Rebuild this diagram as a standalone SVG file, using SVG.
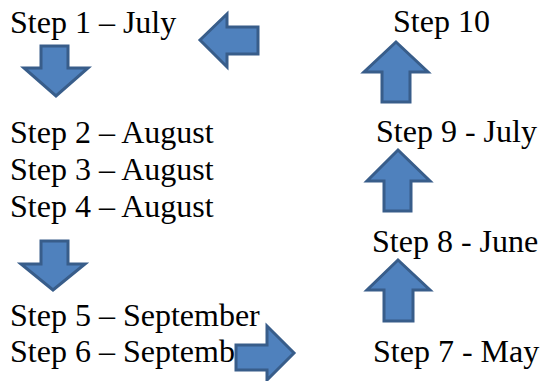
<svg xmlns="http://www.w3.org/2000/svg" width="540" height="381" viewBox="0 0 540 381">
<style>
.t{font-size:32px;fill:#000}
.ar{fill:#4F81BD;stroke:#385D8A;stroke-width:3;stroke-linejoin:miter}
</style>
<rect width="540" height="381" fill="#fff"/>
<g font-family="'Liberation Serif', 'Times New Roman', Tinos, 'DejaVu Serif', serif" class="t">
<g id="step1"><text x="10" y="33">Step 1 – July</text></g>
<g id="step2"><text x="10" y="143">Step 2 – August</text></g>
<g id="step3"><text x="10" y="180">Step 3 – August</text></g>
<g id="step4"><text x="10" y="217">Step 4 – August</text></g>
<g id="step5"><text x="10" y="326">Step 5 – September</text></g>
<g id="step6"><text x="10" y="362">Step 6 – September</text></g>
<g id="step7"><text x="373" y="362">Step 7 - May</text></g>
<g id="step8"><text x="372" y="252">Step 8 - June</text></g>
<g id="step9"><text x="376" y="142">Step 9 - July</text></g>
<g id="step10"><text x="393" y="32">Step 10</text></g>
</g>
<g id="connectors">
<polygon class="ar" points="200,40 227,14 227,27 258,27 258,54 227,54 227,67"/>
<polygon class="ar" points="41,46 68,46 68,68 88,68 56,96 24,68 41,68"/>
<polygon class="ar" points="41,241 68,241 68,264 85,264 53,290 21,264 41,264"/>
<polygon class="ar" points="236,345 267,345 267,326 294,353 267,380 267,370 236,370"/>
<polygon class="ar" points="396,42 428,72 410,72 410,102 382,102 382,72 364,72"/>
<polygon class="ar" points="398,150 430,181 411,181 411,211 384,211 384,181 367,181"/>
<polygon class="ar" points="398,260 430,290 413,290 413,321 384,321 384,290 367,290"/>
</g>
</svg>
